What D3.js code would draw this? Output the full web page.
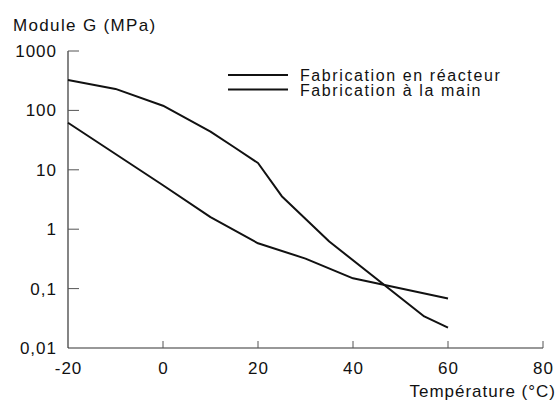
<!DOCTYPE html>
<html>
<head>
<meta charset="utf-8">
<script src="https://cdn.jsdelivr.net/npm/d3@7"></script>
<style>
  html, body { margin: 0; padding: 0; background: #fff; }
  svg text { font-family: "Liberation Sans", Arial, Helvetica, sans-serif; fill: #111; }
</style>
</head>
<body>
<div id="chart"></div>
<script>
// Module G vs température — deux modes de fabrication
const tempReacteur = [-20, -10, 0, 10, 15, 20, 25, 35, 55, 60];
const gReacteur    = [325, 230, 120, 44, 24, 13, 3.6, 0.62, 0.034, 0.022];
const tempMain     = [-20, 0, 10, 20, 30, 40, 60];
const gMain        = [62, 5.5, 1.6, 0.58, 0.32, 0.149, 0.068];

const yTickValues = [0.01, 0.1, 1, 10, 100, 1000];
const yTickLabels = ["0,01", "0,1", "1", "10", "100", "1000"];
const xTickValues = [-20, 0, 20, 40, 60, 80];

const seriesNames = ["Fabrication en réacteur", "Fabrication à la main"];

(function () {
  const W = 558, H = 402;
  const MARGIN = { top: 51, right: 15, bottom: 54, left: 68 };
  const iW = W - MARGIN.left - MARGIN.right;
  const iH = H - MARGIN.top - MARGIN.bottom;

  const svg = d3.select("#chart").append("svg")
    .attr("width", W).attr("height", H).attr("viewBox", `0 0 ${W} ${H}`);

  const g = svg.append("g").attr("transform", `translate(${MARGIN.left},${MARGIN.top})`);

  const x = d3.scaleLinear().domain([-20, 80]).range([0, iW]);
  const y = d3.scaleLog().domain([0.01, 1000]).range([iH, 0]);

  // Axes lines
  g.append("line").attr("x1", 0).attr("x2", 0).attr("y1", 0).attr("y2", iH)
    .attr("stroke", "#333").attr("stroke-width", 1.2);
  g.append("line").attr("x1", 0).attr("x2", iW).attr("y1", iH).attr("y2", iH)
    .attr("stroke", "#333").attr("stroke-width", 1.2);

  // Y ticks (inward)
  yTickValues.forEach((v, i) => {
    if (i > 0) {
      g.append("line").attr("x1", 0).attr("x2", 11).attr("y1", y(v)).attr("y2", y(v))
        .attr("stroke", "#555").attr("stroke-width", 1);
    }
    g.append("text").attr("x", -11).attr("y", y(v)).attr("dy", "0.35em")
      .attr("text-anchor", "end").attr("font-size", "17px").attr("letter-spacing", "1px")
      .text(yTickLabels[i]);
  });

  // X ticks (upward)
  xTickValues.forEach((v, i) => {
    if (i > 0) {
      g.append("line").attr("x1", x(v)).attr("x2", x(v)).attr("y1", iH).attr("y2", iH - 7)
        .attr("stroke", "#555").attr("stroke-width", 1);
    }
    g.append("text").attr("x", x(v) + 0.5).attr("y", iH + 26)
      .attr("text-anchor", "middle").attr("font-size", "17px").attr("letter-spacing", "1px")
      .text(v);
  });

  // Axis titles
  svg.append("text").attr("x", 13).attr("y", 31).attr("font-size", "17px")
    .attr("letter-spacing", "1.35px").text("Module G (MPa)");
  svg.append("text").attr("x", 556).attr("y", 397).attr("text-anchor", "end")
    .attr("font-size", "17px").attr("letter-spacing", "1px").text("Température (°C)");

  // Curves
  const line = d3.line().x(d => x(d[0])).y(d => y(d[1]));
  const series = [
    d3.zip(tempReacteur, gReacteur),
    d3.zip(tempMain, gMain)
  ];
  series.forEach(s => {
    g.append("path").datum(s).attr("fill", "none")
      .attr("stroke", "#111").attr("stroke-width", 2)
      .attr("stroke-linejoin", "round").attr("d", line);
  });

  // Legend
  const legend = svg.append("g").attr("transform", "translate(228,75)");
  seriesNames.forEach((name, i) => {
    legend.append("line").attr("x1", 0).attr("x2", 60).attr("y1", i * 14.5).attr("y2", i * 14.5)
      .attr("stroke", "#111").attr("stroke-width", 2);
    legend.append("text").attr("x", 72).attr("y", i * 14.5 + 3).attr("dy", "0.2em")
      .attr("font-size", "16px").attr("letter-spacing", "1.6px").text(name);
  });
})();
</script>
</body>
</html>
